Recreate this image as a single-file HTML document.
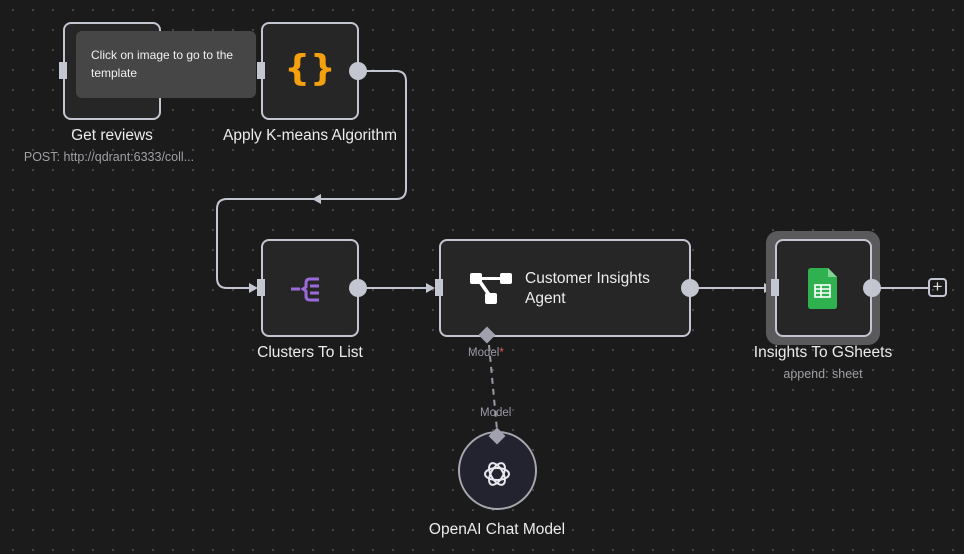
<!DOCTYPE html>
<html><head><meta charset="utf-8"><style>
body{margin:0;width:964px;height:554px;overflow:hidden;background:#1b1b1c;font-family:"Liberation Sans",sans-serif;}
.bg{position:absolute;inset:0;background-image:radial-gradient(circle,#4e4e50 0.8px,transparent 1.2px);background-size:20px 20px;background-position:3px 0px;}
.node{position:absolute;background:#262627;border:2px solid #c3c5d0;border-radius:8px;box-sizing:border-box;}
.lbl{position:absolute;color:#ececec;font-size:15.5px;text-align:center;white-space:nowrap;}
.sub{position:absolute;color:#a0a0a4;font-size:12.5px;text-align:center;white-space:nowrap;}
</style></head><body>
<div class="bg"></div>
<svg width="964" height="554" style="position:absolute;left:0;top:0">
<g fill="none" stroke="#c3c5d0" stroke-width="2">
<path d="M358 71 H396 Q406 71 406 81 V189 Q406 199 396 199 H227 Q217 199 217 209 V278 Q217 288 227 288 H256"/>
<path d="M358 288 H432"/>
<path d="M690 288 H766"/>
<path d="M872 288 H928"/>
<path d="M489 345 L497 430" stroke="#9a9aa6" stroke-dasharray="6 5"/>
</g>
<g fill="#c3c5d0">
<path d="M312 199 L321 194 L321 204 Z"/>
<path d="M258 288 L249 283 L249 293 Z"/>
<path d="M435 288 L426 283 L426 293 Z"/>
<path d="M773 288 L764 283 L764 293 Z"/>
</g>
</svg>
<div class="node" style="left:63px;top:22px;width:98px;height:98px"></div>
<div class="node" style="left:261px;top:22px;width:98px;height:98px">
<div style="position:absolute;left:0;right:0;top:24px;text-align:center;color:#f5a00d;font-size:36px;font-weight:bold;font-family:'DejaVu Sans',sans-serif">{}</div></div>
<div style="position:absolute;left:59px;top:62px;width:8px;height:17px;background:#c3c5d0"></div>
<div style="position:absolute;left:257px;top:62px;width:8px;height:17px;background:#c3c5d0"></div>
<div style="position:absolute;left:349px;top:62px;width:18px;height:18px;border-radius:50%;background:#c3c5d0"></div>
<div style="position:absolute;left:76px;top:31px;width:180px;height:67px;background:#464646;border-radius:6px;color:#f0f0f0;font-size:12px;line-height:18px;padding:15px 0 0 15px;box-sizing:border-box">Click on image to go to the template</div>
<div class="lbl" style="left:62px;top:127px;width:100px">Get reviews</div>
<div class="sub" style="left:0px;top:150px;width:218px">POST: http://qdrant:6333/coll...</div>
<div class="lbl" style="left:200px;top:127px;width:220px">Apply K-means Algorithm</div>

<div class="node" style="left:261px;top:239px;width:98px;height:98px">
<svg width="94" height="94" style="position:absolute;left:0;top:0"><g stroke="#9a6ad8" stroke-width="3" fill="none"><path d="M28 48 H37"/><path d="M56 38 H47 Q43 38 43 42 V46 L40 48 L43 50 V55 Q43 59 47 59 H56"/><path d="M47 45 H56 M47 52 H56"/></g></svg></div>
<div style="position:absolute;left:257px;top:279px;width:8px;height:17px;background:#c3c5d0"></div>
<div style="position:absolute;left:349px;top:279px;width:18px;height:18px;border-radius:50%;background:#c3c5d0"></div>
<div class="lbl" style="left:230px;top:344px;width:160px">Clusters To List</div>

<div class="node" style="left:439px;top:239px;width:252px;height:98px">
<svg width="60" height="60" style="position:absolute;left:26px;top:24px"><g fill="#fff"><rect x="3" y="8" width="12" height="11" rx="2"/><rect x="33" y="8" width="12" height="11" rx="2"/><rect x="18" y="28" width="12" height="11" rx="2"/><path d="M14 12 H34 V15 H14Z"/><path d="M11 17 L20 30 L23 28 L14 15Z"/></g></svg>
<div style="position:absolute;left:84px;top:28px;color:#ececec;font-size:15.5px;line-height:20px">Customer Insights<br>Agent</div></div>
<div style="position:absolute;left:435px;top:279px;width:8px;height:17px;background:#c3c5d0"></div>
<div style="position:absolute;left:681px;top:279px;width:18px;height:18px;border-radius:50%;background:#c3c5d0"></div>
<div style="position:absolute;left:481px;top:329px;width:12px;height:12px;background:#a0a0ae;transform:rotate(45deg)"></div>
<div class="sub" style="left:468px;top:347px;color:#9a9aa6;font-size:11.5px">Model<span style="color:#e05a5a">*</span></div>

<div style="position:absolute;left:766px;top:231px;width:114px;height:114px;background:#5a5a5c;border-radius:12px"></div>
<div class="node" style="left:775px;top:239px;width:97px;height:98px;background:#262627">
<svg width="40" height="44" style="position:absolute;left:31px;top:27px"><path d="M3 0 H20 L29 9 V38 Q29 41 26 41 H3 Q0 41 0 38 V3 Q0 0 3 0Z" fill="#2fb14f"/><path d="M20 0 L29 9 H20Z" fill="#86d39a"/><g fill="none" stroke="#fff" stroke-width="1.6"><rect x="7" y="17" width="15" height="12"/><path d="M7 21 H22 M7 25 H22 M13 17 V29"/></g></svg></div>
<div style="position:absolute;left:771px;top:279px;width:8px;height:17px;background:#c3c5d0"></div>
<div style="position:absolute;left:863px;top:279px;width:18px;height:18px;border-radius:50%;background:#c3c5d0"></div>
<div style="position:absolute;left:928px;top:278px;width:19px;height:19px;border:2px solid #c3c5d0;border-radius:4px;box-sizing:border-box;color:#e0e0e0;font-size:17px;line-height:14px;text-align:center">+</div>
<div class="lbl" style="left:743px;top:344px;width:160px">Insights To GSheets</div>
<div class="sub" style="left:743px;top:367px;width:160px">append: sheet</div>

<div class="sub" style="left:480px;top:407px;color:#9a9aa6;font-size:11.5px">Model</div>
<div style="position:absolute;left:458px;top:431px;width:79px;height:79px;border-radius:50%;border:2px solid #a7a7ae;background:#232330;box-sizing:border-box"></div>
<div style="position:absolute;left:491px;top:430px;width:12px;height:12px;background:#a0a0ae;transform:rotate(45deg)"></div>
<svg width="34" height="34" style="position:absolute;left:480px;top:457px" viewBox="-17 -17 34 34"><g fill="none" stroke="#e8e8ee" stroke-width="2"><ellipse rx="12" ry="6"/><ellipse rx="12" ry="6" transform="rotate(60)"/><ellipse rx="12" ry="6" transform="rotate(120)"/></g></svg>
<div class="lbl" style="left:417px;top:521px;width:160px">OpenAI Chat Model</div>
</body></html>
